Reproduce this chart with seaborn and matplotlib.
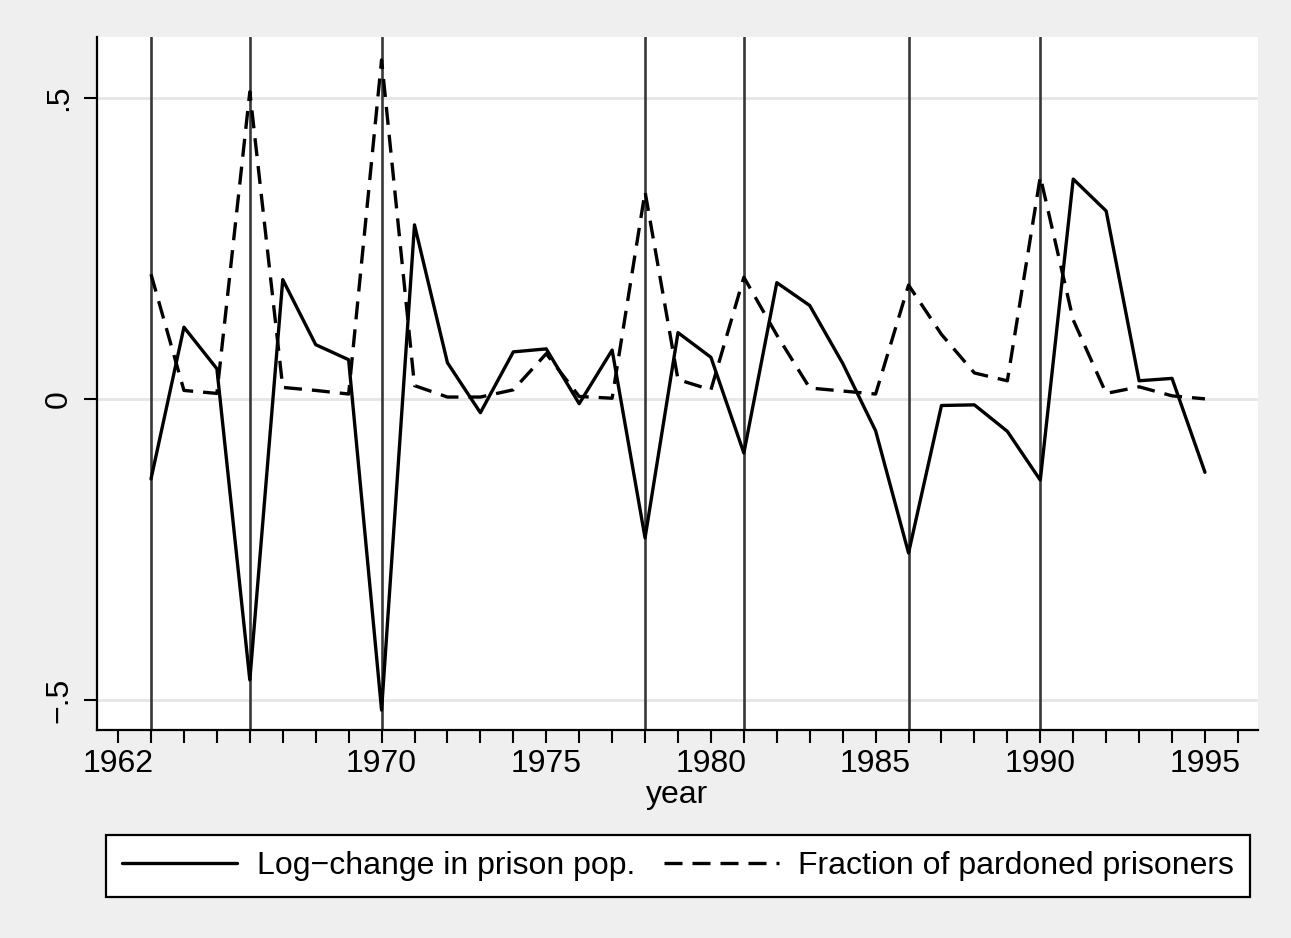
import matplotlib
matplotlib.use("Agg")
import matplotlib.pyplot as plt
import seaborn as sns
import pandas as pd
from matplotlib.ticker import FixedLocator

years = list(range(1963, 1996))
log_change = [-0.133, 0.119, 0.050, -0.467, 0.198, 0.090, 0.065, -0.517, 0.289, 0.060,
              -0.023, 0.078, 0.083, -0.008, 0.081, -0.231, 0.110, 0.069, -0.090, 0.193,
              0.155, 0.059, -0.053, -0.256, -0.011, -0.010, -0.054, -0.135, 0.365, 0.312,
              0.030, 0.034, -0.122]
pardoned = [0.207, 0.014, 0.009, 0.510, 0.019, 0.014, 0.008, 0.563, 0.022, 0.003,
            0.003, 0.015, 0.075, 0.004, 0.001, 0.344, 0.032, 0.015, 0.202, 0.106,
            0.018, 0.013, 0.008, 0.189, 0.107, 0.043, 0.030, 0.369, 0.131, 0.009,
            0.020, 0.005, 0.000]
pardon_years = [1963, 1966, 1970, 1978, 1981, 1986, 1990]
xtick_labels = ["1962", "1970", "1975", "1980", "1985", "1990", "1995"]
ytick_values = [-0.5, 0.0, 0.5]
ytick_labels = ["\u2212.5", "0", ".5"]

df = pd.DataFrame({"year": years, "log_change": log_change, "pardoned": pardoned})

sns.set_style("white")
plt.rcParams['font.family'] = ['Liberation Sans', 'DejaVu Sans']
plt.rcParams['text.color'] = 'black'
plt.rcParams['xtick.color'] = 'black'
plt.rcParams['ytick.color'] = 'black'
plt.rcParams['axes.labelcolor'] = 'black'

FS = 23

fig = plt.figure(figsize=(12.91, 9.38), dpi=100, facecolor="#efefef")
ax = fig.add_axes([97/1291, 1-730/938, (1258-97)/1291, (730-37)/938])
ax.set_facecolor("white")

for v in ytick_values:
    ax.axhline(v, color="#e6e6e6", lw=2.0, zorder=0)
for yv in pardon_years:
    ax.axvline(yv, color="#383838", lw=1.9, zorder=1)

sns.lineplot(data=df, x="year", y="log_change", ax=ax, color="black", lw=2.4,
             label="Log\u2212change in prison pop.", legend=False, zorder=3)
sns.lineplot(data=df, x="year", y="pardoned", ax=ax, color="black", lw=2.4,
             label="Fraction of pardoned prisoners", legend=False, zorder=3)
ax.lines[-1].set_dashes((5.4, 3.0))

ax.set_xlim(1961.36, 1996.61)
ax.set_ylim(-0.550, 0.601)

ax.xaxis.set_minor_locator(FixedLocator(list(range(1962, 1997))))
ax.set_xticks([int(t) for t in xtick_labels])
ax.set_xticklabels(xtick_labels)
ax.set_yticks(ytick_values)
ax.set_yticklabels(ytick_labels, rotation=90, va="center")
ax.tick_params(axis="both", which="both", direction="out", length=9.4, width=1.5,
               color="black", labelsize=FS, bottom=True, left=True)
ax.tick_params(axis="x", which="major", pad=4)
ax.tick_params(axis="y", which="major", pad=7)

for s in ["top", "right"]:
    ax.spines[s].set_visible(False)
for s in ["left", "bottom"]:
    ax.spines[s].set_color("black")
    ax.spines[s].set_linewidth(1.6)

ax.set_xlabel("year", fontsize=FS, labelpad=1)
ax.set_ylabel("")

handles = ax.lines[-2:]
leg = fig.legend(handles, [h.get_label() for h in handles], loc="center",
                 bbox_to_anchor=(678/1291, 1-866/938), ncol=2, fontsize=FS,
                 frameon=True, fancybox=False, edgecolor="black", facecolor="white",
                 handlelength=3.6, handletextpad=0.6, columnspacing=0.9,
                 borderpad=0.5, borderaxespad=0)
leg.get_frame().set_linewidth(1.6)
leg.get_frame().set_alpha(1)

fig.savefig("out.png", dpi=100, facecolor=fig.get_facecolor())
